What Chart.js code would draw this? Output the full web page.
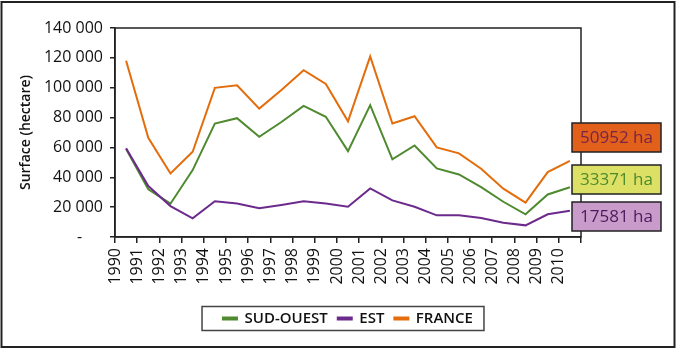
<!DOCTYPE html>
<html>
<head>
<meta charset="utf-8">
<script src="https://cdn.jsdelivr.net/npm/chart.js@4.4.0/dist/chart.umd.min.js"></script>
<style>
  html, body { margin: 0; padding: 0; background: #fff; }
</style>
</head>
<body>
<canvas id="surfaceChart" width="679" height="350"></canvas>
<script>
// Surface (hectare) par année
const years = ['1990', '1991', '1992', '1993', '1994', '1995', '1996', '1997', '1998', '1999', '2000',
  '2001', '2002', '2003', '2004', '2005', '2006', '2007', '2008', '2009', '2010'];
const sudOuest = [59000, 32000, 22300, 44800, 76000, 79600, 67100, 77000, 87800, 80500, 57500,
  88300, 52000, 61300, 45900, 41900, 33400, 23600, 15200, 28500, 33371];
const est = [59500, 34100, 20700, 12500, 23900, 22500, 19200, 21500, 23900, 22500, 20300,
  32500, 24500, 20300, 14500, 14500, 12700, 9600, 7800, 15200, 17581];
const france = [118000, 66500, 42600, 57100, 99900, 101600, 86000, 98500, 111700, 102500, 77500,
  121000, 76000, 80900, 60000, 56000, 45700, 32400, 23000, 43500, 50952];
const yTicks = [0, 20000, 40000, 60000, 80000, 100000, 120000, 140000];

const FONT = "'Open Sans', 'DejaVu Sans', sans-serif";
const GREEN = '#4f8a2f';
const PURPLE = '#6c2a8c';
const ORANGE = '#e46c0a';

function formatThousands(v) {
  return String(v).replace(/\B(?=(\d{3})+(?!\d))/g, ' ');
}

// white background + frame round the whole picture
const framePlugin = {
  id: 'frame',
  beforeDraw(chart) {
    const ctx = chart.ctx;
    ctx.save();
    ctx.fillStyle = '#fff';
    ctx.fillRect(0, 0, chart.width, chart.height);
    ctx.strokeStyle = '#222';
    ctx.lineWidth = 2;
    ctx.strokeRect(1.5, 2, 673, 345);
    ctx.restore();
  },
  afterDraw(chart) {
    const ctx = chart.ctx;
    const a = chart.chartArea;
    ctx.save();
    // plot area border
    ctx.strokeStyle = '#222';
    ctx.lineWidth = 1.5;
    ctx.strokeRect(a.left, a.top, a.right - a.left, a.bottom - a.top);

    // legend border
    const boxes = chart.legend.legendHitBoxes;
    if (boxes && boxes.length) {
      const first = boxes[0];
      const last = boxes[boxes.length - 1];
      const x0 = first.left - 21;
      const x1 = last.left + last.width + 11;
      const cy = first.top + first.height / 2;
      ctx.lineWidth = 1.5;
      ctx.strokeStyle = '#444';
      ctx.strokeRect(x0, cy - 12, x1 - x0, 24);
    }
    ctx.restore();
  }
};

// value boxes at the right of the plot
const endLabels = [
  { data: france, fill: '#e0601c', text: '#7a2446', top: 95 },
  { data: sudOuest, fill: '#dce065', text: '#4c8a2e', top: 137 },
  { data: est, fill: '#c99bcb', text: '#4a1c5c', top: 174 }
];
const endLabelPlugin = {
  id: 'endLabels',
  afterDraw(chart) {
    const ctx = chart.ctx;
    const a = chart.chartArea;
    ctx.save();
    ctx.font = '17px ' + FONT;
    ctx.textAlign = 'center';
    ctx.textBaseline = 'middle';
    endLabels.forEach(function(lbl) {
      const x = a.right - 9;
      const y = a.top + lbl.top;
      const w = 89, h = 29;
      ctx.fillStyle = lbl.fill;
      ctx.fillRect(x, y, w, h);
      ctx.strokeStyle = '#222';
      ctx.lineWidth = 1.5;
      ctx.strokeRect(x, y, w, h);
      ctx.fillStyle = lbl.text;
      ctx.fillText(lbl.data[lbl.data.length - 1] + ' ha', x + w / 2, y + h / 2 + 1);
    });
    ctx.restore();
  }
};

const ctx = document.getElementById('surfaceChart').getContext('2d');
const surfaceChart = new Chart(ctx, {
  type: 'line',
  data: {
    labels: years,
    datasets: [
      { label: 'SUD-OUEST', data: sudOuest, borderColor: GREEN, backgroundColor: GREEN, order: 2 },
      { label: 'EST', data: est, borderColor: PURPLE, backgroundColor: PURPLE, order: 1 },
      { label: 'FRANCE', data: france, borderColor: ORANGE, backgroundColor: ORANGE, order: 0 }
    ]
  },
  options: {
    responsive: false,
    animation: false,
    devicePixelRatio: 1,
    layout: {
      padding: { top: 28, right: 98, bottom: 14, left: 0 }
    },
    elements: {
      line: { borderWidth: 2, tension: 0, borderJoinStyle: 'miter' },
      point: { radius: 0, hoverRadius: 0 }
    },
    scales: {
      x: {
        offset: true,
        grid: {
          offset: true,
          drawOnChartArea: false,
          drawTicks: true,
          tickLength: 6,
          color: '#222',
          lineWidth: 1.5
        },
        border: { color: '#222', width: 1.5 },
        ticks: {
          color: '#111',
          font: { family: FONT, size: 16, weight: '500' },
          minRotation: 90,
          maxRotation: 90,
          autoSkip: false,
          labelOffset: -11,
          padding: 5
        },
        afterFit: function(scale) { scale.height = 64; }
      },
      y: {
        min: 0,
        max: 140000,
        afterBuildTicks: function(scale) {
          scale.ticks = yTicks.map(v => ({ value: v }));
        },
        grid: {
          drawOnChartArea: false,
          drawTicks: true,
          tickLength: 5,
          color: '#222',
          lineWidth: 1.5
        },
        border: { color: '#222', width: 1.5 },
        ticks: {
          color: '#111',
          font: { family: FONT, size: 16, weight: '500' },
          padding: 7,
          callback: function(value) {
            return value === 0 ? '-     ' : formatThousands(value);
          }
        },
        title: {
          display: true,
          text: 'Surface (hectare)',
          color: '#111',
          font: { family: FONT, size: 14, weight: '600' },
          padding: { top: 18, bottom: 0 }
        },
        afterFit: function(scale) { scale.width = 115; }
      }
    },
    plugins: {
      legend: {
        position: 'bottom',
        fullSize: false,
        labels: {
          color: '#111',
          font: { family: FONT, size: 15, weight: '600' },
          boxWidth: 14,
          boxHeight: 2,
          padding: 10,
          sort: (a, b) => a.datasetIndex - b.datasetIndex
        }
      },
      tooltip: { enabled: false }
    }
  },
  plugins: [framePlugin, endLabelPlugin]
});
</script>
</body>
</html>
